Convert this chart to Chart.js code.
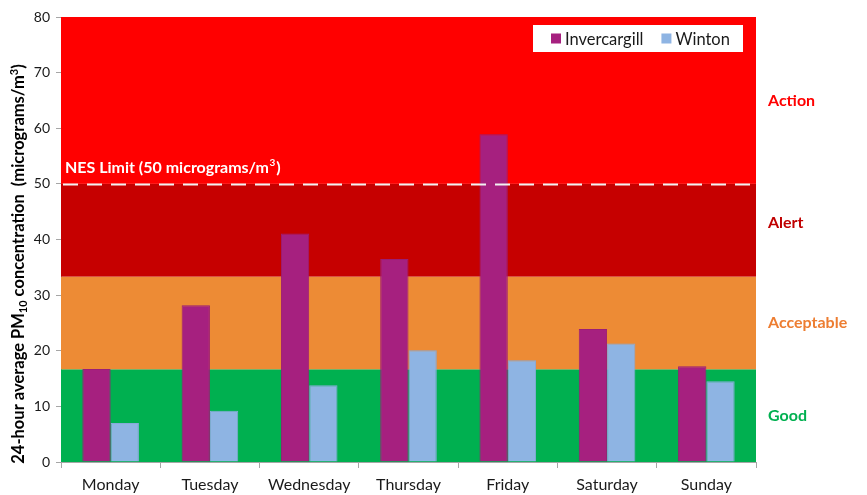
<!DOCTYPE html>
<html>
<head>
<meta charset="utf-8">
<script src="https://cdn.jsdelivr.net/npm/chart.js@4"></script>
<style>
html,body{margin:0;padding:0;background:#fff;}
#wrap{width:867px;height:495px;position:relative;}
</style>
</head>
<body>
<div id="wrap"><canvas id="c" width="867" height="495"></canvas></div>
<script>
const days = ['Monday','Tuesday','Wednesday','Thursday','Friday','Saturday','Sunday'];
const invercargill = [16.7, 28.2, 41.1, 36.5, 58.9, 23.9, 17.2];
const winton = [7.0, 9.2, 13.8, 20.1, 18.3, 21.3, 14.5];
const seriesNames = ['Invercargill','Winton'];
const bandEdges = [0, 16.67, 33.33, 50, 80];
const bandNames = ['Good','Acceptable','Alert','Action'];
const bandLabelValues = [8.3, 25, 43, 65];
const nesLimit = 50;
const yTicks = [0,10,20,30,40,50,60,70,80];

const bandColors = ['#00B050','#ED8B35','#C60000','#FF0000'];
const bandTextColors = ['#00B050','#ED7D31','#C00000','#FF0000'];
const FONT = 'Lato, "Noto Sans", sans-serif';

const bandsPlugin = {
  id:'bands',
  beforeDatasetsDraw(chart){
    const {ctx, chartArea:a, scales:{y}} = chart;
    ctx.save();
    for(let i=0;i<bandEdges.length-1;i++){
      const y0 = y.getPixelForValue(bandEdges[i]);
      const y1 = y.getPixelForValue(bandEdges[i+1]);
      ctx.fillStyle = bandColors[i];
      ctx.fillRect(a.left, y1, a.right-a.left, y0-y1);
    }
    ctx.restore();
  },
  afterDatasetsDraw(chart){
    const {ctx, chartArea:a, scales:{y}} = chart;
    ctx.save();
    const yl = Math.round(y.getPixelForValue(nesLimit))+0.5;
    ctx.strokeStyle = '#F2F2F2';
    ctx.lineWidth = 2;
    ctx.setLineDash([15,9]);
    ctx.beginPath();
    ctx.moveTo(a.left+2, yl); ctx.lineTo(a.right, yl);
    ctx.stroke();
    ctx.setLineDash([]);
    // NES label with superscript
    ctx.fillStyle = '#FFFFFF';
    ctx.textBaseline = 'alphabetic';
    ctx.textAlign = 'left';
    const base = yl - 12;
    let x = a.left + 4;
    ctx.font = 'bold 16px ' + FONT;
    const main = 'NES Limit (50 micrograms/m';
    ctx.fillText(main, x, base); x += ctx.measureText(main).width;
    ctx.font = 'bold 10px ' + FONT;
    ctx.fillText('3', x+0.5, base-7); x += ctx.measureText('3').width + 1.5;
    ctx.font = 'bold 16px ' + FONT;
    ctx.fillText(')', x, base);
    // band labels on the right
    ctx.font = 'bold 16px ' + FONT;
    ctx.textBaseline = 'middle';
    for(let i=0;i<bandNames.length;i++){
      ctx.fillStyle = bandTextColors[i];
      ctx.fillText(bandNames[i], a.right + 12, y.getPixelForValue(bandLabelValues[i]));
    }
    // legend
    const ds = chart.data.datasets;
    ctx.font = '16.5px ' + FONT;
    ctx.textBaseline = 'middle';
    const bx = 533, by = 25, bw = 210, bh = 27;
    ctx.fillStyle = '#FFFFFF';
    ctx.fillRect(bx, by, bw, bh);
    let lx = bx + 18;
    const ly = by + bh/2;
    ds.forEach((d,i)=>{
      ctx.fillStyle = d.backgroundColor;
      ctx.fillRect(lx, ly-5, 10, 10);
      lx += 14;
      ctx.fillStyle = '#1a1a1a';
      ctx.fillText(d.label, lx, ly+1);
      lx += ctx.measureText(d.label).width + 18;
    });
    ctx.restore();
  },
  afterDraw(chart){
    const {ctx} = chart;
    ctx.save();
    ctx.translate(19, 264);
    ctx.rotate(-Math.PI/2);
    ctx.fillStyle = '#000';
    ctx.textBaseline = 'middle';
    const segs = [
      ['24-hour average PM', 'bold 16.5px '+FONT, 0],
      ['10', 'bold 11px '+FONT, 4],
      [' concentration  (micrograms/m', 'bold 16.5px '+FONT, 0],
      ['3', 'bold 11px '+FONT, -5],
      [')', 'bold 16.5px '+FONT, 0]
    ];
    let total = 0;
    segs.forEach(s=>{ ctx.font = s[1]; total += ctx.measureText(s[0]).width; });
    let x = -total/2;
    segs.forEach(s=>{ ctx.font = s[1]; ctx.fillText(s[0], x, s[2]); x += ctx.measureText(s[0]).width; });
    ctx.restore();
  }
};

new Chart(document.getElementById('c'), {
  type:'bar',
  data:{
    labels: days,
    datasets:[
      {label: seriesNames[0], data: invercargill, backgroundColor:'#A6207F', borderColor:'#9A1E76', borderWidth:1},
      {label: seriesNames[1], data: winton, backgroundColor:'#8EB4E3', borderColor:'#86AAD8', borderWidth:1}
    ]
  },
  options:{
    responsive:false,
    animation:false,
    layout:{padding:{top:17, right:111, left:0, bottom:0}},
    plugins:{legend:{display:false}, title:{display:false}, tooltip:{enabled:false}},
    datasets:{bar:{categoryPercentage:0.57, barPercentage:1.0}},
    scales:{
      x:{
        grid:{offset:true, drawOnChartArea:false, color:'#A6A6A6', tickLength:6},
        border:{color:'#A6A6A6'},
        ticks:{color:'#1a1a1a', font:{family:FONT, size:16}, padding:7},
        afterFit(s){ s.height = 33; }
      },
      y:{
        min:0, max:80,
        afterBuildTicks(s){ s.ticks = yTicks.map(v=>({value:v})); },
        grid:{drawOnChartArea:false, color:'#A6A6A6', tickLength:5},
        border:{color:'#A6A6A6'},
        ticks:{color:'#1a1a1a', font:{family:FONT, size:14}, padding:6},
        afterFit(s){ s.width = 61; }
      }
    }
  },
  plugins:[bandsPlugin]
});
</script>
</body>
</html>
